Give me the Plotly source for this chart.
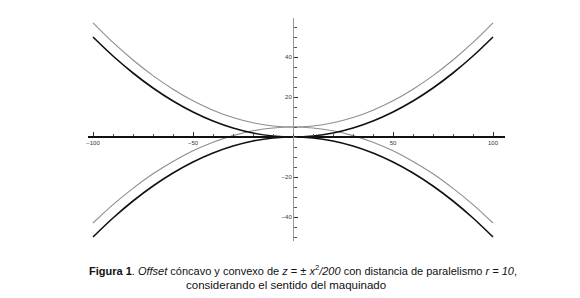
import plotly.graph_objects as go

# Data
x_vals = [-100, -90, -80, -70, -60, -50, -40, -30, -20, -10, 0,
          10, 20, 30, 40, 50, 60, 70, 80, 90, 100]
z_parab_up = [50, 40.5, 32, 24.5, 18, 12.5, 8, 4.5, 2, 0.5, 0,
              0.5, 2, 4.5, 8, 12.5, 18, 24.5, 32, 40.5, 50]
z_parab_down = [-50, -40.5, -32, -24.5, -18, -12.5, -8, -4.5, -2, -0.5, 0,
                -0.5, -2, -4.5, -8, -12.5, -18, -24.5, -32, -40.5, -50]
z_offset_up = [57.1, 47.3, 38.5, 30.7, 23.9, 18.1, 13.4, 9.7, 7.1, 5.5, 5.0,
               5.5, 7.1, 9.7, 13.4, 18.1, 23.9, 30.7, 38.5, 47.3, 57.1]
z_offset_down = [-43.0, -33.8, -25.7, -18.4, -12.2, -6.9, -2.6, 0.7, 3.1, 4.5, 5.0,
                 4.5, 3.1, 0.7, -2.6, -6.9, -12.2, -18.4, -25.7, -33.8, -43.0]

x_ticks = [-100, -50, 50, 100]
x_tick_labels = ["\u2212100", "\u221250", "50", "100"]
y_ticks = [-40, -20, 20, 40]
y_tick_labels = ["\u221240", "\u221220", "20", "40"]

x_range = [-102.5, 106]
y_range = [-52, 59.5]

fig = go.Figure()
gray = "#8e8e8e"
for z in (z_offset_up, z_offset_down):
    fig.add_trace(go.Scatter(x=x_vals, y=z, mode="lines",
                             line=dict(color=gray, width=1.1, shape="spline"),
                             hoverinfo="skip"))
for z in (z_parab_up, z_parab_down):
    fig.add_trace(go.Scatter(x=x_vals, y=z, mode="lines",
                             line=dict(color="#111111", width=1.6, shape="spline"),
                             hoverinfo="skip"))

xpos = (0 - y_range[0]) / (y_range[1] - y_range[0])
ypos = (0 - x_range[0]) / (x_range[1] - x_range[0])

# page body has an 8px margin; plot area sits at px 88..505 x 18..241 of the window
PL, PT, PW, PH = 88, 18, 417, 223


def px_to_paper(px, py):
    return (px - PL) / PW, (PT + PH - py) / PH


fig.update_layout(
    width=572, height=290,
    margin=dict(l=PL - 8, r=572 - (PL - 8) - PW, t=PT - 8, b=290 - (PT - 8) - PH),
    paper_bgcolor="white", plot_bgcolor="white",
    showlegend=False,
    font=dict(family="Liberation Sans, Arial, sans-serif", color="#222"),
    xaxis=dict(range=x_range, autorange=False, anchor="free", position=xpos,
               side="bottom", showgrid=False, zeroline=False,
               showline=True, linecolor="#111111", linewidth=1.5,
               tickmode="array", tickvals=x_ticks, ticktext=x_tick_labels,
               ticks="inside", ticklen=4, tickcolor="#333", tickwidth=1,
               tickfont=dict(size=6, color="#333"),
               minor=dict(tickmode="linear", tick0=0, dtick=10, ticks="inside",
                          ticklen=2.5, tickcolor="#555", tickwidth=1)),
    yaxis=dict(range=y_range, autorange=False, anchor="free", position=ypos,
               side="left", showgrid=False, zeroline=False,
               showline=True, linecolor="#9a9a9a", linewidth=1,
               tickmode="array", tickvals=y_ticks, ticktext=y_tick_labels,
               ticks="inside", ticklen=4, tickcolor="#333", tickwidth=1,
               tickfont=dict(size=6, color="#333"),
               minor=dict(tickmode="linear", tick0=0, dtick=5, ticks="inside",
                          ticklen=2.5, tickcolor="#555", tickwidth=1)),
)

fig.add_annotation(x=108, y=0, xref="x", yref="y", text="<i>x</i>",
                   showarrow=False, xanchor="left", yanchor="middle",
                   font=dict(size=7, color="#333"))

cx1, cy1 = px_to_paper(303, 270)
cx2, cy2 = px_to_paper(286, 285)
fig.add_annotation(x=cx1, y=cy1, xref="paper", yref="paper",
                   text="<b>Figura 1</b>. <i>Offset</i> cóncavo y convexo de "
                        "<i>z</i> = ± <i>x</i><sup>2</sup><i>/200</i> con distancia "
                        "de paralelismo <i>r = 10</i>,",
                   showarrow=False, xanchor="center", yanchor="middle",
                   font=dict(size=11, color="#111"))
fig.add_annotation(x=cx2, y=cy2, xref="paper", yref="paper",
                   text="considerando el sentido del maquinado",
                   showarrow=False, xanchor="center", yanchor="middle",
                   font=dict(size=11.5, color="#111"))

fig.write_html("out.html")
